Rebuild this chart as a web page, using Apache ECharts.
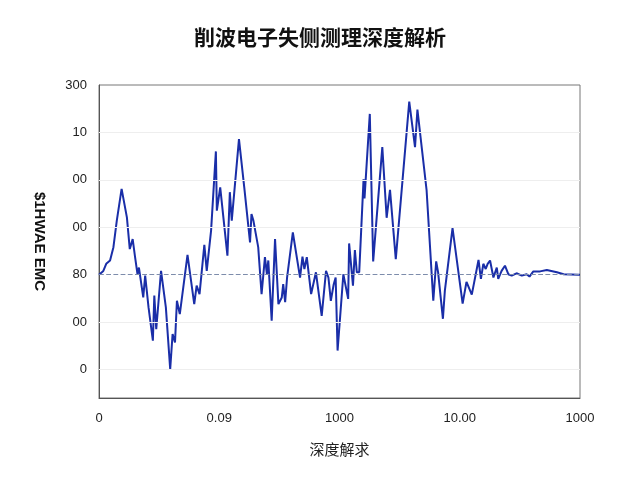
<!DOCTYPE html>
<html>
<head>
<meta charset="utf-8">
<script src="https://cdn.jsdelivr.net/npm/echarts@6/dist/echarts.min.js"></script>
<style>html,body{margin:0;padding:0;background:#fff}#chart{width:640px;height:480px}</style>
</head>
<body>
<div id="chart"></div>
<script>
// 深度（横轴）
const depth = [0, 9, 15, 18, 23, 30, 37, 47, 58, 64, 70, 75, 80, 83, 87, 92, 96, 103, 112, 115, 119, 129, 139, 148, 153, 158, 162, 168, 184, 198, 203, 209, 219, 224, 233, 243, 245, 252, 267, 272, 276, 291, 302, 314, 317, 321, 331, 338, 345, 349, 352, 359, 366, 373, 380, 383, 387, 391, 403, 418, 423, 427, 432, 441, 451, 463, 472, 477, 482, 488, 492, 496, 508, 518, 520, 528, 532, 536, 541, 550, 552, 563, 570, 589, 598, 605, 617, 645, 657, 662, 681, 695, 701, 705, 715, 719, 735, 756, 764, 775, 789, 794, 799, 804, 808, 813, 820, 827, 830, 837, 844, 851, 858, 868, 879, 889, 895, 903, 917, 931, 952, 966, 997, 1000];
// 信号幅值
const signal = [2.60, 2.68, 2.83, 2.79, 2.90, 3.18, 3.74, 4.41, 3.81, 3.14, 3.35, 2.97, 2.61, 2.75, 2.75, 2.12, 2.58, 1.91, 1.21, 2.16, 1.45, 2.68, 1.91, 0.61, 1.35, 1.17, 2.05, 1.77, 3.02, 1.98, 2.37, 2.19, 3.23, 2.68, 3.53, 5.20, 3.95, 4.44, 3.00, 4.34, 3.74, 5.46, 4.44, 3.28, 3.88, 3.74, 3.18, 2.19, 2.97, 2.61, 2.90, 1.63, 3.35, 1.98, 2.12, 2.40, 2.02, 2.54, 3.49, 2.54, 2.98, 2.72, 2.97, 2.19, 2.65, 1.73, 2.68, 2.54, 2.05, 2.40, 2.54, 1.00, 2.61, 2.09, 3.26, 2.37, 3.12, 2.65, 2.65, 4.61, 4.21, 5.99, 2.88, 5.29, 3.80, 4.39, 2.93, 6.25, 5.29, 6.08, 4.39, 2.05, 2.88, 2.65, 1.67, 2.26, 3.58, 1.99, 2.45, 2.18, 2.91, 2.51, 2.83, 2.72, 2.83, 2.90, 2.54, 2.75, 2.51, 2.68, 2.79, 2.61, 2.58, 2.63, 2.58, 2.61, 2.56, 2.67, 2.67, 2.70, 2.65, 2.61, 2.60, 2.60];
const baseline = 2.6;
// 刻度
const yTickValues = [0.6, 1.6, 2.6, 3.6, 4.6, 5.6, 6.6];
const yTickLabels = ['0', '00', '80', '00', '00', '10', '300'];
const xTickLabels = ['0', '0.09', '1000', '10.00', '1000'];

const chart = echarts.init(document.getElementById('chart'));

chart.setOption({
    animation: false,
    title: {
        text: '削波电子失侧测理深度解析',
        left: 'center',
        top: 22,
        textStyle: { fontSize: 21, fontWeight: 'bold', color: '#111', fontFamily: 'Noto Sans CJK SC' }
    },
    grid: { left: 99, right: 60, top: 85, bottom: 82, show: true, borderColor: '#777', borderWidth: 1 },
    xAxis: {
        type: 'value',
        min: 0, max: 1000, interval: 250,
        name: '深度解求',
        nameLocation: 'middle',
        nameGap: 44,
        nameTextStyle: { fontSize: 15, color: '#222', fontFamily: 'Noto Sans CJK SC' },
        axisLine: { lineStyle: { color: '#555' } },
        axisTick: { show: false },
        splitLine: { show: false },
        axisLabel: {
            margin: 14, fontSize: 13, color: '#222',
            formatter: v => xTickLabels[Math.round(v / 250)]
        }
    },
    yAxis: {
        type: 'value',
        min: 0, max: 6.6,
        name: '$1HWAE EMC',
        nameLocation: 'middle',
        nameRotate: -90,
        nameGap: 52,
        nameTextStyle: { fontSize: 15, fontWeight: 'bold', color: '#111' },
        axisLine: { show: true, lineStyle: { color: '#555' } },
        axisTick: { show: false },
        splitLine: { show: false },
        axisLabel: {
            customValues: yTickValues,
            margin: 12, fontSize: 13, color: '#222',
            formatter: v => yTickLabels[Math.round(v - 0.6)]
        }
    },
    series: [{
        type: 'line',
        data: depth.map((d, i) => [d, signal[i]]),
        showSymbol: false,
        lineStyle: { color: '#1a2ea8', width: 2 },
        z: 3,
        markLine: {
            silent: true, symbol: 'none', label: { show: false },
            data: yTickValues.filter(v => v !== baseline && v < 6.6).map(v => ({
                yAxis: v, lineStyle: { color: '#eeeeee', type: 'solid', width: 1 }
            })).concat([{ yAxis: baseline, lineStyle: { color: '#7d8cab', type: 'dashed', width: 1.2 } }])
        }
    }]
});
</script>
</body>
</html>
